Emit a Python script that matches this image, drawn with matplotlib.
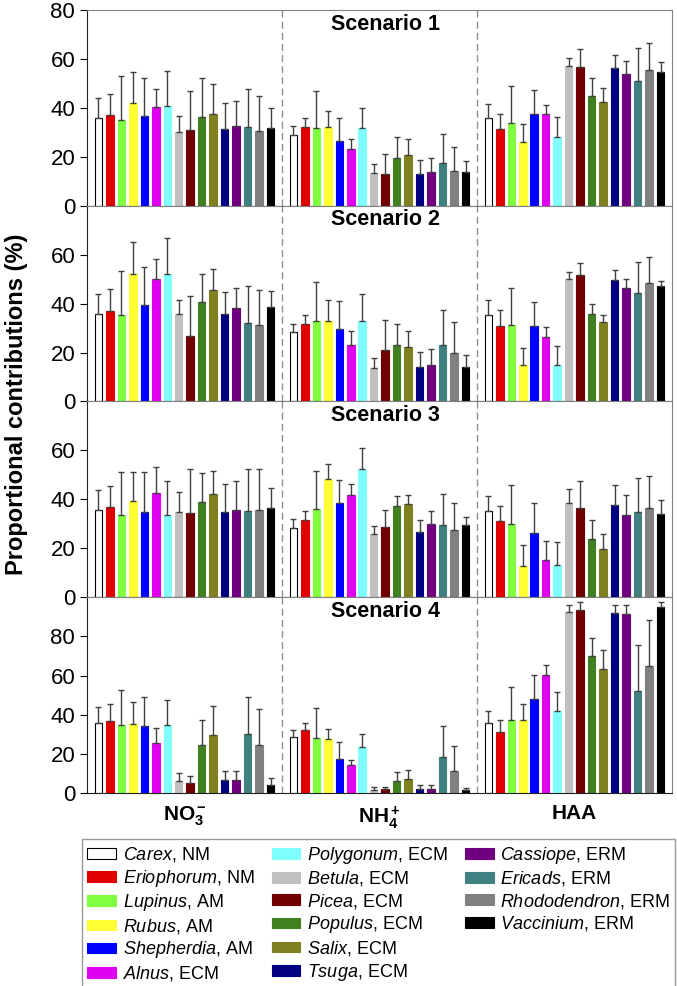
import numpy as np
import matplotlib
matplotlib.use("Agg")
import matplotlib.pyplot as plt
from matplotlib.patches import Patch

plt.rcParams['font.family'] = ['Liberation Sans', 'DejaVu Sans']
plt.rcParams['mathtext.fontset'] = 'custom'
plt.rcParams['mathtext.rm'] = 'Liberation Sans'
plt.rcParams['mathtext.it'] = 'Liberation Sans:italic'
plt.rcParams['mathtext.bf'] = 'Liberation Sans:bold'

species = ['Carex', 'Eriophorum', 'Lupinus', 'Rubus', 'Shepherdia', 'Alnus',
           'Polygonum', 'Betula', 'Picea', 'Populus', 'Salix', 'Tsuga',
           'Cassiope', 'Ericads', 'Rhododendron', 'Vaccinium']
myco = ['NM', 'NM', 'AM', 'AM', 'AM', 'ECM', 'ECM', 'ECM', 'ECM', 'ECM',
        'ECM', 'ECM', 'ERM', 'ERM', 'ERM', 'ERM']
colors = ['white', '#e00000', '#80ff40', '#ffff33', '#0000ff', '#e000f0',
          '#80ffff', '#c0c0c0', '#700000', '#408020', '#808020', '#000080',
          '#700080', '#408080', '#808080', '#000000']
sources = [r'$\mathbf{NO_3^-}$', r'$\mathbf{NH_4^+}$', 'HAA']
scenarios = ['Scenario 1', 'Scenario 2', 'Scenario 3', 'Scenario 4']

# mean proportional contributions (%), [NO3-, NH4+, HAA] per scenario
s1_mean = [
    [35.8, 37.0, 35.0, 42.1, 36.6, 40.2, 40.8, 30.0, 31.1, 36.4, 37.5, 31.5, 32.6, 32.1, 30.4, 31.8],
    [28.7, 32.1, 31.7, 32.2, 26.6, 23.0, 31.7, 13.4, 12.8, 19.3, 20.8, 12.8, 13.9, 17.5, 14.3, 13.9],
    [36.0, 31.5, 34.0, 26.0, 37.5, 37.3, 28.0, 57.0, 56.6, 44.9, 42.4, 56.2, 54.0, 51.1, 55.6, 54.8],
]
s1_sd = [
    [8.1, 8.7, 17.9, 12.4, 15.5, 7.5, 14.3, 6.8, 15.9, 15.7, 12.2, 10.5, 10.2, 15.8, 14.6, 8.0],
    [3.7, 3.6, 15.3, 6.5, 9.4, 4.4, 8.1, 3.7, 8.4, 8.7, 6.6, 5.8, 5.7, 12.0, 9.7, 4.4],
    [5.7, 6.1, 15.0, 7.5, 9.7, 4.0, 8.1, 3.5, 7.4, 7.3, 5.7, 5.5, 5.1, 13.2, 10.9, 4.0],
]
s2_mean = [
    [35.6, 37.0, 35.2, 52.0, 39.3, 50.2, 52.0, 35.6, 26.7, 40.5, 45.4, 35.9, 38.2, 32.1, 31.3, 38.5],
    [28.3, 31.7, 32.9, 32.9, 29.7, 23.1, 32.9, 13.6, 21.1, 23.1, 22.3, 14.0, 15.1, 23.1, 19.7, 14.1],
    [35.5, 31.0, 31.3, 15.0, 30.7, 26.5, 15.1, 50.1, 51.8, 35.8, 32.4, 49.7, 46.5, 44.4, 48.6, 47.1],
]
s2_sd = [
    [8.3, 8.9, 18.0, 13.0, 15.7, 8.2, 14.7, 6.0, 16.3, 11.5, 8.7, 9.0, 8.2, 15.2, 14.1, 6.5],
    [3.5, 3.5, 16.1, 8.5, 11.3, 5.6, 11.0, 4.2, 12.1, 8.6, 6.4, 6.4, 6.3, 14.3, 12.7, 4.8],
    [5.9, 6.4, 15.2, 6.8, 9.8, 3.8, 7.5, 2.8, 4.7, 3.9, 2.8, 3.9, 3.7, 12.5, 10.4, 2.3],
]
s3_mean = [
    [35.7, 36.9, 33.7, 39.2, 34.9, 42.6, 33.7, 34.9, 34.6, 38.9, 42.2, 35.0, 35.7, 35.2, 35.8, 36.3],
    [28.4, 31.7, 36.1, 48.2, 38.4, 41.6, 52.3, 25.9, 28.8, 37.1, 38.0, 26.7, 30.1, 29.5, 27.4, 29.4],
    [35.4, 31.0, 29.8, 12.7, 26.3, 15.4, 13.3, 38.5, 36.3, 23.7, 19.7, 37.9, 33.7, 34.8, 36.4, 34.1],
]
s3_sd = [
    [8.1, 8.7, 17.6, 12.1, 16.2, 10.6, 13.9, 8.1, 17.7, 11.8, 9.3, 11.2, 11.7, 17.1, 16.8, 8.2],
    [3.7, 3.5, 15.4, 6.2, 9.6, 4.5, 8.5, 3.2, 6.8, 4.3, 3.6, 4.8, 5.1, 12.5, 11.0, 3.3],
    [5.8, 6.2, 15.9, 8.5, 12.2, 7.6, 9.3, 5.6, 11.1, 8.0, 6.2, 7.8, 8.2, 14.1, 13.1, 5.7],
]
s4_mean = [
    [35.6, 36.8, 35.0, 35.2, 34.4, 25.7, 34.6, 6.2, 5.0, 24.4, 29.7, 6.5, 6.9, 30.2, 24.4, 4.3],
    [28.7, 32.1, 28.0, 27.5, 17.6, 14.2, 23.7, 1.7, 2.0, 6.3, 7.1, 2.0, 2.2, 18.2, 11.1, 1.5],
    [35.8, 31.4, 37.5, 37.5, 48.2, 60.1, 41.8, 92.3, 93.6, 69.8, 63.5, 91.8, 91.4, 52.1, 64.9, 94.8],
]
s4_sd = [
    [8.2, 8.9, 17.8, 11.2, 14.8, 7.3, 12.9, 3.9, 3.6, 12.8, 14.6, 4.6, 4.6, 19.0, 18.4, 3.2],
    [3.5, 3.5, 15.5, 5.3, 8.3, 2.7, 6.4, 1.2, 1.2, 4.2, 4.8, 1.9, 1.7, 15.9, 12.7, 0.9],
    [6.0, 6.1, 16.5, 8.0, 11.9, 5.5, 9.6, 3.5, 3.8, 9.2, 9.5, 4.2, 4.4, 23.5, 23.3, 2.6],
]

means = [s1_mean, s2_mean, s3_mean, s4_mean]
sds = [s1_sd, s2_sd, s3_sd, s4_sd]
ylims = [80, 80, 80, 100]
yticks = [[0, 20, 40, 60, 80], [0, 20, 40, 60], [0, 20, 40, 60], [0, 20, 40, 60, 80]]

fig = plt.figure(figsize=(6.77, 9.86), dpi=100)
gs = fig.add_gridspec(4, 1, left=0.1285, right=0.9925, top=0.9899, bottom=0.1957, hspace=0)

n = len(species)
step = 0.0589
width = 0.0385
offsets = (np.arange(n) - (n - 1) / 2) * step

axes = []
for p in range(4):
    ax = fig.add_subplot(gs[p])
    axes.append(ax)
    for g in range(3):
        x = g + 0.5 + offsets
        ax.bar(x, means[p][g], width=width, color=colors,
               edgecolor=['black'] + colors[1:], linewidth=0.8, zorder=2)
        ax.errorbar(x, means[p][g], yerr=[np.zeros(n), sds[p][g]], fmt='none',
                    ecolor='#404040', elinewidth=1.0, capsize=2.5, capthick=1.0, zorder=3)
    for xv in (1, 2):
        ax.axvline(xv, color='#909090', linestyle=(0, (5, 3)), linewidth=1.0, zorder=1)
    ax.set_xlim(0, 3)
    ax.set_ylim(0, ylims[p])
    ax.set_yticks(yticks[p])
    ax.tick_params(axis='y', direction='out', length=5, labelsize=16, width=0.8)
    ax.tick_params(axis='x', length=0)
    for side in ('top', 'right'):
        ax.spines[side].set_color('#808080')
    for side in ('left', 'bottom'):
        ax.spines[side].set_color('#202020')
    ax.text(0.51, 1 - 14 / 195, scenarios[p], transform=ax.transAxes,
            ha='center', va='center', fontsize=15.5, fontweight='bold')
    if p < 3:
        ax.set_xticks([])
    else:
        ax.set_xticks([0.5, 1.5, 2.5])
        ax.set_xticklabels(sources, fontsize=15, fontweight='bold')
        ax.tick_params(axis='x', pad=8)

fig.text(0.024, 0.59, 'Proportional contributions (%)', rotation=90,
         ha='center', va='center', fontsize=17, fontweight='bold')

handles = [Patch(facecolor=c, edgecolor='black' if i == 0 else c, linewidth=0.8)
           for i, c in enumerate(colors)]
labels = [r'$\mathit{%s}$, %s' % (s, m) for s, m in zip(species, myco)]
# two empty slots so the columns hold 6, 6 and 4 entries
handles += [Patch(visible=False), Patch(visible=False)]
labels += ['', '']
fig.legend(handles, labels, loc='upper left', ncol=3,
           bbox_to_anchor=(0.121, 0.003, 0.876, 0.146), mode='expand',
           fontsize=13, frameon=True, fancybox=False, edgecolor='#808080',
           handlelength=1.6, handleheight=0.55, labelspacing=0.2,
           columnspacing=0.5, handletextpad=0.35, borderpad=0.3,
           borderaxespad=0)

fig.savefig('out.png', dpi=100)
